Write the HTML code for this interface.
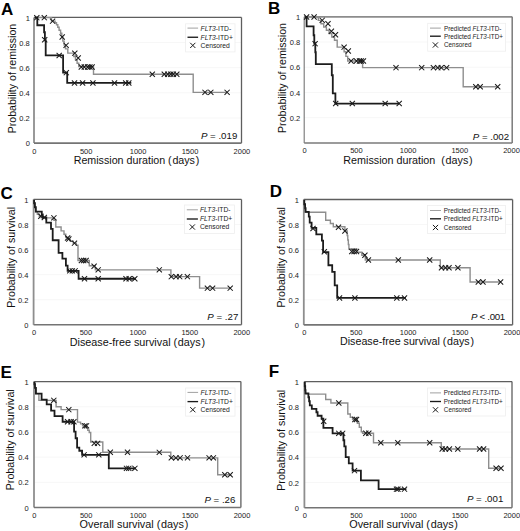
<!DOCTYPE html>
<html><head><meta charset="utf-8"><style>
html,body{margin:0;padding:0;background:#fff;}
svg{display:block;font-family:"Liberation Sans", sans-serif;}
</style></head><body>
<svg width="520" height="531" viewBox="0 0 520 531">
<rect width="520" height="531" fill="#fff"/>
<path d="M34 42.54H241.5" stroke="#f7f7f7" stroke-width="1"/>
<path d="M34 67.68H241.5" stroke="#f7f7f7" stroke-width="1"/>
<path d="M34 92.82H241.5" stroke="#f7f7f7" stroke-width="1"/>
<path d="M34 117.96H241.5" stroke="#f7f7f7" stroke-width="1"/>
<text x="0.90" y="14.60" font-size="17" text-anchor="start" font-weight="bold" fill="#000" >A</text>
<text transform="translate(16.20,78.60) rotate(-90)" font-size="10.6" text-anchor="middle" fill="#111">Probability of remission</text>
<text x="136.50" y="163.70" font-size="10.7" text-anchor="middle" font-weight="normal" fill="#111" xml:space="preserve">Remission duration (<tspan dx="0.7">days</tspan><tspan dx="0.8">)</tspan></text>
<text x="29.80" y="20.50" font-size="7.5" text-anchor="end" font-weight="normal" fill="#222" >1</text>
<text x="29.80" y="45.64" font-size="7.5" text-anchor="end" font-weight="normal" fill="#222" >0.8</text>
<text x="29.80" y="70.78" font-size="7.5" text-anchor="end" font-weight="normal" fill="#222" >0.6</text>
<text x="29.80" y="95.92" font-size="7.5" text-anchor="end" font-weight="normal" fill="#222" >0.4</text>
<text x="29.80" y="121.06" font-size="7.5" text-anchor="end" font-weight="normal" fill="#222" >0.2</text>
<text x="29.80" y="146.20" font-size="7.5" text-anchor="end" font-weight="normal" fill="#222" >0</text>
<text x="34.30" y="153.60" font-size="7.5" text-anchor="middle" font-weight="normal" fill="#222" >0</text>
<text x="86.20" y="153.60" font-size="7.5" text-anchor="middle" font-weight="normal" fill="#222" >500</text>
<text x="138.10" y="153.60" font-size="7.5" text-anchor="middle" font-weight="normal" fill="#222" >1000</text>
<text x="190.00" y="153.60" font-size="7.5" text-anchor="middle" font-weight="normal" fill="#222" >1500</text>
<text x="241.90" y="153.60" font-size="7.5" text-anchor="middle" font-weight="normal" fill="#222" >2000</text>
<rect x="185.6" y="23.8" width="49.4" height="28.1" fill="#fff" stroke="#eeeeee" stroke-width="0.8"/>
<path d="M187.5 28.1H198.1" stroke="#a0a0a0" stroke-width="1.0"/>
<path d="M187.5 37.25H198.1" stroke="#1a1a1a" stroke-width="1.35"/>
<path d="M190.20 42.80L195.40 48.00M190.20 48.00L195.40 42.80" stroke="#1a1a1a" stroke-width="1.0" fill="none"/>
<text x="200.6" y="30.5" font-size="6.75" fill="#222"><tspan font-style="italic">FLT3</tspan>-ITD-</text>
<text x="200.6" y="39.65" font-size="6.75" fill="#222"><tspan font-style="italic">FLT3</tspan>-ITD+</text>
<text x="200.6" y="47.8" font-size="6.75" fill="#222">Censored</text>
<text x="237.3" y="139.1" font-size="9.7" text-anchor="end" fill="#111"><tspan font-style="italic">P</tspan> = .019</text>
<path d="M34 17.4H241.5" stroke="#5e5e5e" stroke-width="1.3"/>
<path d="M241.5 17.4V143.1" stroke="#5e5e5e" stroke-width="1.3"/>
<path d="M34 17.4V143.1" stroke="#8e8e8e" stroke-width="1.8"/>
<path d="M34 143.1H241.5" stroke="#747474" stroke-width="1.6"/>
<g transform="translate(0.3,0.25)">
<path d="M34.3 17.4H51.2V20.9H54.8V22.5H56.2V24.5H57.5V27H58.8V30H60.3V33H61.5V37H62.5V40.87H63.83V44.73H65.17V48.60H66.50H67.5V52.9H73.5V56.25H75.15V59.60H76.80V62.95H78.45V66.30H80.10H93.2V74.0H192.9V92.1H227" stroke="#8e8e8e" stroke-width="1.4" fill="none"/>
<path d="M34.3 17.4H37V25H43.8V32H44.6V40H45.4V55.2H62.8V72.4H66.9V82.7H131" stroke="#1c1c1c" stroke-width="1.8" fill="none"/>
<path d="M33.90 14.80L39.10 20.00M33.90 20.00L39.10 14.80" stroke="#1a1a1a" stroke-width="1.05" fill="none"/>
<path d="M41.40 14.80L46.60 20.00M41.40 20.00L46.60 14.80" stroke="#1a1a1a" stroke-width="1.05" fill="none"/>
<path d="M49.70 18.30L54.90 23.50M49.70 23.50L54.90 18.30" stroke="#1a1a1a" stroke-width="1.05" fill="none"/>
<path d="M59.30 34.10L64.50 39.30M59.30 39.30L64.50 34.10" stroke="#1a1a1a" stroke-width="1.05" fill="none"/>
<path d="M63.20 42.50L68.40 47.70M63.20 47.70L68.40 42.50" stroke="#1a1a1a" stroke-width="1.05" fill="none"/>
<path d="M71.90 50.30L77.10 55.50M71.90 55.50L77.10 50.30" stroke="#1a1a1a" stroke-width="1.05" fill="none"/>
<path d="M75.30 55.10L80.50 60.30M75.30 60.30L80.50 55.10" stroke="#1a1a1a" stroke-width="1.05" fill="none"/>
<path d="M78.40 64.20L83.60 69.40M78.40 69.40L83.60 64.20" stroke="#1a1a1a" stroke-width="1.05" fill="none"/>
<path d="M81.40 64.20L86.60 69.40M81.40 69.40L86.60 64.20" stroke="#1a1a1a" stroke-width="1.05" fill="none"/>
<path d="M84.80 64.20L90.00 69.40M84.80 69.40L90.00 64.20" stroke="#1a1a1a" stroke-width="1.05" fill="none"/>
<path d="M87.00 64.20L92.20 69.40M87.00 69.40L92.20 64.20" stroke="#1a1a1a" stroke-width="1.05" fill="none"/>
<path d="M89.20 64.20L94.40 69.40M89.20 69.40L94.40 64.20" stroke="#1a1a1a" stroke-width="1.05" fill="none"/>
<path d="M149.40 71.40L154.60 76.60M149.40 76.60L154.60 71.40" stroke="#1a1a1a" stroke-width="1.05" fill="none"/>
<path d="M161.40 71.40L166.60 76.60M161.40 76.60L166.60 71.40" stroke="#1a1a1a" stroke-width="1.05" fill="none"/>
<path d="M164.90 71.40L170.10 76.60M164.90 76.60L170.10 71.40" stroke="#1a1a1a" stroke-width="1.05" fill="none"/>
<path d="M167.90 71.40L173.10 76.60M167.90 76.60L173.10 71.40" stroke="#1a1a1a" stroke-width="1.05" fill="none"/>
<path d="M170.40 71.40L175.60 76.60M170.40 76.60L175.60 71.40" stroke="#1a1a1a" stroke-width="1.05" fill="none"/>
<path d="M173.90 71.40L179.10 76.60M173.90 76.60L179.10 71.40" stroke="#1a1a1a" stroke-width="1.05" fill="none"/>
<path d="M202.10 89.50L207.30 94.70M202.10 94.70L207.30 89.50" stroke="#1a1a1a" stroke-width="1.05" fill="none"/>
<path d="M207.90 89.50L213.10 94.70M207.90 94.70L213.10 89.50" stroke="#1a1a1a" stroke-width="1.05" fill="none"/>
<path d="M224.20 89.50L229.40 94.70M224.20 94.70L229.40 89.50" stroke="#1a1a1a" stroke-width="1.05" fill="none"/>
<path d="M41.80 36.90L47.00 42.10M41.80 42.10L47.00 36.90" stroke="#1a1a1a" stroke-width="1.05" fill="none"/>
<path d="M56.30 52.60L61.50 57.80M56.30 57.80L61.50 52.60" stroke="#1a1a1a" stroke-width="1.05" fill="none"/>
<path d="M63.40 69.80L68.60 75.00M63.40 75.00L68.60 69.80" stroke="#1a1a1a" stroke-width="1.05" fill="none"/>
<path d="M71.60 80.10L76.80 85.30M71.60 85.30L76.80 80.10" stroke="#1a1a1a" stroke-width="1.05" fill="none"/>
<path d="M79.70 80.10L84.90 85.30M79.70 85.30L84.90 80.10" stroke="#1a1a1a" stroke-width="1.05" fill="none"/>
<path d="M90.00 80.10L95.20 85.30M90.00 85.30L95.20 80.10" stroke="#1a1a1a" stroke-width="1.05" fill="none"/>
<path d="M111.60 80.10L116.80 85.30M111.60 85.30L116.80 80.10" stroke="#1a1a1a" stroke-width="1.05" fill="none"/>
<path d="M122.80 80.10L128.00 85.30M122.80 85.30L128.00 80.10" stroke="#1a1a1a" stroke-width="1.05" fill="none"/>
<path d="M125.90 80.10L131.10 85.30M125.90 85.30L131.10 80.10" stroke="#1a1a1a" stroke-width="1.05" fill="none"/>
</g>
<path d="M304.2 42.02H512.2" stroke="#f7f7f7" stroke-width="1"/>
<path d="M304.2 67.24H512.2" stroke="#f7f7f7" stroke-width="1"/>
<path d="M304.2 92.46H512.2" stroke="#f7f7f7" stroke-width="1"/>
<path d="M304.2 117.68H512.2" stroke="#f7f7f7" stroke-width="1"/>
<text x="267.90" y="13.60" font-size="17" text-anchor="start" font-weight="bold" fill="#000" >B</text>
<text transform="translate(286.20,78.00) rotate(-90)" font-size="10.65" text-anchor="middle" fill="#111">Probability of remission</text>
<text x="408.00" y="163.60" font-size="10.75" text-anchor="middle" font-weight="normal" fill="#111" xml:space="preserve">Remission duration  (<tspan dx="0.7">days</tspan><tspan dx="0.8">)</tspan></text>
<text x="300.20" y="19.90" font-size="7.5" text-anchor="end" font-weight="normal" fill="#222" >1</text>
<text x="300.20" y="45.12" font-size="7.5" text-anchor="end" font-weight="normal" fill="#222" >0.8</text>
<text x="300.20" y="70.34" font-size="7.5" text-anchor="end" font-weight="normal" fill="#222" >0.6</text>
<text x="300.20" y="95.56" font-size="7.5" text-anchor="end" font-weight="normal" fill="#222" >0.4</text>
<text x="300.20" y="120.78" font-size="7.5" text-anchor="end" font-weight="normal" fill="#222" >0.2</text>
<text x="304.70" y="153.30" font-size="7.5" text-anchor="middle" font-weight="normal" fill="#222" >0</text>
<text x="356.40" y="153.30" font-size="7.5" text-anchor="middle" font-weight="normal" fill="#222" >500</text>
<text x="408.10" y="153.30" font-size="7.5" text-anchor="middle" font-weight="normal" fill="#222" >1000</text>
<text x="459.80" y="153.30" font-size="7.5" text-anchor="middle" font-weight="normal" fill="#222" >1500</text>
<text x="511.50" y="153.30" font-size="7.5" text-anchor="middle" font-weight="normal" fill="#222" >2000</text>
<rect x="427.7" y="23.3" width="77.9" height="27.9" fill="#fff" stroke="#eeeeee" stroke-width="0.8"/>
<path d="M430 28.1H440.8" stroke="#a0a0a0" stroke-width="1.0"/>
<path d="M430 36.2H440.8" stroke="#1a1a1a" stroke-width="1.35"/>
<path d="M432.80 42.40L438.00 47.60M432.80 47.60L438.00 42.40" stroke="#1a1a1a" stroke-width="1.0" fill="none"/>
<text x="444" y="30.5" font-size="6.35" fill="#222">Predicted <tspan font-style="italic">FLT3</tspan>-ITD-</text>
<text x="444" y="38.6" font-size="6.35" fill="#222">Predicted <tspan font-style="italic">FLT3</tspan>-ITD+</text>
<text x="444" y="47.4" font-size="6.35" fill="#222">Censored</text>
<text x="509.1" y="139.9" font-size="9.7" text-anchor="end" fill="#111"><tspan font-style="italic">P</tspan> = .002</text>
<path d="M304.2 16.8H512.2" stroke="#8c8c8c" stroke-width="1.8"/>
<path d="M512.2 16.8V142.9" stroke="#7a7a7a" stroke-width="1.5"/>
<path d="M304.2 16.8V142.9" stroke="#767676" stroke-width="1.1"/>
<path d="M304.2 142.9H512.2" stroke="#7a7a7a" stroke-width="1.5"/>
<g transform="translate(0.3,0.25)">
<path d="M304.5 16.8H318V20.11H320.70V23.43H323.40V26.74H326.10V30.06H328.80V33.37H331.50V36.69H334.20V40.00H336.90V46.9H343.8V51.53H345.60V56.17H347.40V60.80H349.20H362.3V67.4H462.9V86.5H497.5" stroke="#8e8e8e" stroke-width="1.4" fill="none"/>
<path d="M304.5 16.8H306.3V26.1H313.3V35H314V43H315V52H315.5V63.8H331.5V75H332.5V93.1H335.1V103.3H399" stroke="#1c1c1c" stroke-width="1.8" fill="none"/>
<path d="M303.70 14.20L308.90 19.40M303.70 19.40L308.90 14.20" stroke="#1a1a1a" stroke-width="1.05" fill="none"/>
<path d="M311.20 14.20L316.40 19.40M311.20 19.40L316.40 14.20" stroke="#1a1a1a" stroke-width="1.05" fill="none"/>
<path d="M319.30 17.50L324.50 22.70M319.30 22.70L324.50 17.50" stroke="#1a1a1a" stroke-width="1.05" fill="none"/>
<path d="M325.10 20.90L330.30 26.10M325.10 26.10L330.30 20.90" stroke="#1a1a1a" stroke-width="1.05" fill="none"/>
<path d="M328.50 28.40L333.70 33.60M328.50 33.60L333.70 28.40" stroke="#1a1a1a" stroke-width="1.05" fill="none"/>
<path d="M332.60 31.90L337.80 37.10M332.60 37.10L337.80 31.90" stroke="#1a1a1a" stroke-width="1.05" fill="none"/>
<path d="M341.20 44.30L346.40 49.50M341.20 49.50L346.40 44.30" stroke="#1a1a1a" stroke-width="1.05" fill="none"/>
<path d="M345.40 48.20L350.60 53.40M345.40 53.40L350.60 48.20" stroke="#1a1a1a" stroke-width="1.05" fill="none"/>
<path d="M348.20 58.20L353.40 63.40M348.20 63.40L353.40 58.20" stroke="#1a1a1a" stroke-width="1.05" fill="none"/>
<path d="M353.60 58.20L358.80 63.40M353.60 63.40L358.80 58.20" stroke="#1a1a1a" stroke-width="1.05" fill="none"/>
<path d="M356.60 58.20L361.80 63.40M356.60 63.40L361.80 58.20" stroke="#1a1a1a" stroke-width="1.05" fill="none"/>
<path d="M358.40 58.20L363.60 63.40M358.40 63.40L363.60 58.20" stroke="#1a1a1a" stroke-width="1.05" fill="none"/>
<path d="M360.50 58.20L365.70 63.40M360.50 63.40L365.70 58.20" stroke="#1a1a1a" stroke-width="1.05" fill="none"/>
<path d="M393.10 64.80L398.30 70.00M393.10 70.00L398.30 64.80" stroke="#1a1a1a" stroke-width="1.05" fill="none"/>
<path d="M418.80 64.80L424.00 70.00M418.80 70.00L424.00 64.80" stroke="#1a1a1a" stroke-width="1.05" fill="none"/>
<path d="M430.50 64.80L435.70 70.00M430.50 70.00L435.70 64.80" stroke="#1a1a1a" stroke-width="1.05" fill="none"/>
<path d="M434.90 64.80L440.10 70.00M434.90 70.00L440.10 64.80" stroke="#1a1a1a" stroke-width="1.05" fill="none"/>
<path d="M438.40 64.80L443.60 70.00M438.40 70.00L443.60 64.80" stroke="#1a1a1a" stroke-width="1.05" fill="none"/>
<path d="M443.70 64.80L448.90 70.00M443.70 70.00L448.90 64.80" stroke="#1a1a1a" stroke-width="1.05" fill="none"/>
<path d="M472.90 83.90L478.10 89.10M472.90 89.10L478.10 83.90" stroke="#1a1a1a" stroke-width="1.05" fill="none"/>
<path d="M477.30 83.90L482.50 89.10M477.30 89.10L482.50 83.90" stroke="#1a1a1a" stroke-width="1.05" fill="none"/>
<path d="M494.80 83.90L500.00 89.10M494.80 89.10L500.00 83.90" stroke="#1a1a1a" stroke-width="1.05" fill="none"/>
<path d="M312.20 40.80L317.40 46.00M312.20 46.00L317.40 40.80" stroke="#1a1a1a" stroke-width="1.05" fill="none"/>
<path d="M332.80 100.70L338.00 105.90M332.80 105.90L338.00 100.70" stroke="#1a1a1a" stroke-width="1.05" fill="none"/>
<path d="M349.40 100.70L354.60 105.90M349.40 105.90L354.60 100.70" stroke="#1a1a1a" stroke-width="1.05" fill="none"/>
<path d="M382.30 100.70L387.50 105.90M382.30 105.90L387.50 100.70" stroke="#1a1a1a" stroke-width="1.05" fill="none"/>
<path d="M396.30 100.70L401.50 105.90M396.30 105.90L401.50 100.70" stroke="#1a1a1a" stroke-width="1.05" fill="none"/>
</g>
<path d="M33.6 224.48H241.5" stroke="#f7f7f7" stroke-width="1"/>
<path d="M33.6 249.56H241.5" stroke="#f7f7f7" stroke-width="1"/>
<path d="M33.6 274.64H241.5" stroke="#f7f7f7" stroke-width="1"/>
<path d="M33.6 299.72H241.5" stroke="#f7f7f7" stroke-width="1"/>
<text x="0.60" y="198.50" font-size="17" text-anchor="start" font-weight="bold" fill="#000" >C</text>
<text transform="translate(14.60,257.30) rotate(-90)" font-size="10.66" text-anchor="middle" fill="#111">Probability of survival</text>
<text x="137.40" y="345.60" font-size="10.8" text-anchor="middle" font-weight="normal" fill="#111" xml:space="preserve">Disease-free survival (<tspan dx="0.7">days</tspan><tspan dx="0.8">)</tspan></text>
<text x="28.40" y="202.50" font-size="7.5" text-anchor="end" font-weight="normal" fill="#222" >1</text>
<text x="28.40" y="227.58" font-size="7.5" text-anchor="end" font-weight="normal" fill="#222" >0.8</text>
<text x="28.40" y="252.66" font-size="7.5" text-anchor="end" font-weight="normal" fill="#222" >0.6</text>
<text x="28.40" y="277.74" font-size="7.5" text-anchor="end" font-weight="normal" fill="#222" >0.4</text>
<text x="28.40" y="302.82" font-size="7.5" text-anchor="end" font-weight="normal" fill="#222" >0.2</text>
<text x="28.40" y="327.90" font-size="7.5" text-anchor="end" font-weight="normal" fill="#222" >0</text>
<text x="34.00" y="335.10" font-size="7.5" text-anchor="middle" font-weight="normal" fill="#222" >0</text>
<text x="85.94" y="335.10" font-size="7.5" text-anchor="middle" font-weight="normal" fill="#222" >500</text>
<text x="137.88" y="335.10" font-size="7.5" text-anchor="middle" font-weight="normal" fill="#222" >1000</text>
<text x="189.81" y="335.10" font-size="7.5" text-anchor="middle" font-weight="normal" fill="#222" >1500</text>
<text x="241.75" y="335.10" font-size="7.5" text-anchor="middle" font-weight="normal" fill="#222" >2000</text>
<rect x="184.5" y="205" width="50" height="28.5" fill="#fff" stroke="#eeeeee" stroke-width="0.8"/>
<path d="M186.8 209.8H197.9" stroke="#a0a0a0" stroke-width="1.0"/>
<path d="M186.8 219H197.9" stroke="#1a1a1a" stroke-width="1.35"/>
<path d="M189.75 224.40L194.95 229.60M189.75 229.60L194.95 224.40" stroke="#1a1a1a" stroke-width="1.0" fill="none"/>
<text x="199.9" y="212.20000000000002" font-size="6.75" fill="#222"><tspan font-style="italic">FLT3</tspan>-ITD-</text>
<text x="199.9" y="221.4" font-size="6.75" fill="#222"><tspan font-style="italic">FLT3</tspan>-ITD+</text>
<text x="199.9" y="229.4" font-size="6.75" fill="#222">Censored</text>
<text x="238.3" y="320.2" font-size="9.7" text-anchor="end" fill="#111"><tspan font-style="italic">P</tspan> = .27</text>
<path d="M33.6 199.4H241.5" stroke="#5e5e5e" stroke-width="1.3"/>
<path d="M241.5 199.4V324.8" stroke="#5e5e5e" stroke-width="1.3"/>
<path d="M33.6 199.4V324.8" stroke="#8e8e8e" stroke-width="1.8"/>
<path d="M33.6 324.8H241.5" stroke="#747474" stroke-width="1.6"/>
<g transform="translate(0.3,0.25)">
<path d="M33.8 199.4V203H34.6V207H35.5V211.4H37V214H39V216H41V217.6H53.6V220H55.5V226.7H60.8V230.6H63.7V234H65.5V237.3H67.5V239H70V241H73V243H76V245H77.7V260.2H89V265.5H95V269.6H170.6V276.4H199.3V287.9H230" stroke="#8e8e8e" stroke-width="1.4" fill="none"/>
<path d="M33.8 199.4V203H34.6V207H35.5V211.4H41.5V215H42.5V217.2H46V222.4H50.7V228.7H52.4V240H58.3V252.7H62.1V258.4H65.6V265.4H67.3V270.6H78.3V278.5H135.5" stroke="#1c1c1c" stroke-width="1.8" fill="none"/>
<path d="M37.90 213.40L43.10 218.60M37.90 218.60L43.10 213.40" stroke="#1a1a1a" stroke-width="1.05" fill="none"/>
<path d="M51.00 215.00L56.20 220.20M51.00 220.20L56.20 215.00" stroke="#1a1a1a" stroke-width="1.05" fill="none"/>
<path d="M64.70 235.10L69.90 240.30M64.70 240.30L69.90 235.10" stroke="#1a1a1a" stroke-width="1.05" fill="none"/>
<path d="M65.90 236.20L71.10 241.40M65.90 241.40L71.10 236.20" stroke="#1a1a1a" stroke-width="1.05" fill="none"/>
<path d="M71.60 240.30L76.80 245.50M71.60 245.50L76.80 240.30" stroke="#1a1a1a" stroke-width="1.05" fill="none"/>
<path d="M78.50 257.60L83.70 262.80M78.50 262.80L83.70 257.60" stroke="#1a1a1a" stroke-width="1.05" fill="none"/>
<path d="M80.80 257.60L86.00 262.80M80.80 262.80L86.00 257.60" stroke="#1a1a1a" stroke-width="1.05" fill="none"/>
<path d="M83.20 257.60L88.40 262.80M83.20 262.80L88.40 257.60" stroke="#1a1a1a" stroke-width="1.05" fill="none"/>
<path d="M91.20 263.40L96.40 268.60M91.20 268.60L96.40 263.40" stroke="#1a1a1a" stroke-width="1.05" fill="none"/>
<path d="M95.30 267.00L100.50 272.20M95.30 272.20L100.50 267.00" stroke="#1a1a1a" stroke-width="1.05" fill="none"/>
<path d="M156.40 267.00L161.60 272.20M156.40 272.20L161.60 267.00" stroke="#1a1a1a" stroke-width="1.05" fill="none"/>
<path d="M168.40 273.80L173.60 279.00M168.40 279.00L173.60 273.80" stroke="#1a1a1a" stroke-width="1.05" fill="none"/>
<path d="M173.20 273.80L178.40 279.00M173.20 279.00L178.40 273.80" stroke="#1a1a1a" stroke-width="1.05" fill="none"/>
<path d="M176.80 273.80L182.00 279.00M176.80 279.00L182.00 273.80" stroke="#1a1a1a" stroke-width="1.05" fill="none"/>
<path d="M184.50 273.80L189.70 279.00M184.50 279.00L189.70 273.80" stroke="#1a1a1a" stroke-width="1.05" fill="none"/>
<path d="M204.50 285.30L209.70 290.50M204.50 290.50L209.70 285.30" stroke="#1a1a1a" stroke-width="1.05" fill="none"/>
<path d="M209.70 285.30L214.90 290.50M209.70 290.50L214.90 285.30" stroke="#1a1a1a" stroke-width="1.05" fill="none"/>
<path d="M227.30 285.30L232.50 290.50M227.30 290.50L232.50 285.30" stroke="#1a1a1a" stroke-width="1.05" fill="none"/>
<path d="M41.40 214.60L46.60 219.80M41.40 219.80L46.60 214.60" stroke="#1a1a1a" stroke-width="1.05" fill="none"/>
<path d="M66.90 268.00L72.10 273.20M66.90 273.20L72.10 268.00" stroke="#1a1a1a" stroke-width="1.05" fill="none"/>
<path d="M69.40 268.00L74.60 273.20M69.40 273.20L74.60 268.00" stroke="#1a1a1a" stroke-width="1.05" fill="none"/>
<path d="M72.20 268.00L77.40 273.20M72.20 273.20L77.40 268.00" stroke="#1a1a1a" stroke-width="1.05" fill="none"/>
<path d="M81.60 275.90L86.80 281.10M81.60 281.10L86.80 275.90" stroke="#1a1a1a" stroke-width="1.05" fill="none"/>
<path d="M95.30 275.90L100.50 281.10M95.30 281.10L100.50 275.90" stroke="#1a1a1a" stroke-width="1.05" fill="none"/>
<path d="M123.10 275.90L128.30 281.10M123.10 281.10L128.30 275.90" stroke="#1a1a1a" stroke-width="1.05" fill="none"/>
<path d="M126.30 275.90L131.50 281.10M126.30 281.10L131.50 275.90" stroke="#1a1a1a" stroke-width="1.05" fill="none"/>
<path d="M131.90 275.90L137.10 281.10M131.90 281.10L137.10 275.90" stroke="#1a1a1a" stroke-width="1.05" fill="none"/>
</g>
<path d="M303.8 224.58H512.6" stroke="#f7f7f7" stroke-width="1"/>
<path d="M303.8 249.66H512.6" stroke="#f7f7f7" stroke-width="1"/>
<path d="M303.8 274.74H512.6" stroke="#f7f7f7" stroke-width="1"/>
<path d="M303.8 299.82H512.6" stroke="#f7f7f7" stroke-width="1"/>
<text x="269.70" y="197.40" font-size="17" text-anchor="start" font-weight="bold" fill="#000" >D</text>
<text transform="translate(284.70,257.30) rotate(-90)" font-size="10.65" text-anchor="middle" fill="#111">Probability of survival</text>
<text x="407.00" y="345.40" font-size="10.7" text-anchor="middle" font-weight="normal" fill="#111" xml:space="preserve">Disease-free survival (<tspan dx="0.7">days</tspan><tspan dx="0.8">)</tspan></text>
<text x="299.00" y="202.60" font-size="7.5" text-anchor="end" font-weight="normal" fill="#222" >1</text>
<text x="299.00" y="227.68" font-size="7.5" text-anchor="end" font-weight="normal" fill="#222" >0.8</text>
<text x="299.00" y="252.76" font-size="7.5" text-anchor="end" font-weight="normal" fill="#222" >0.6</text>
<text x="299.00" y="277.84" font-size="7.5" text-anchor="end" font-weight="normal" fill="#222" >0.4</text>
<text x="299.00" y="302.92" font-size="7.5" text-anchor="end" font-weight="normal" fill="#222" >0.2</text>
<text x="299.00" y="328.00" font-size="7.5" text-anchor="end" font-weight="normal" fill="#222" >0</text>
<text x="304.30" y="334.70" font-size="7.5" text-anchor="middle" font-weight="normal" fill="#222" >0</text>
<text x="356.23" y="334.70" font-size="7.5" text-anchor="middle" font-weight="normal" fill="#222" >500</text>
<text x="408.15" y="334.70" font-size="7.5" text-anchor="middle" font-weight="normal" fill="#222" >1000</text>
<text x="460.08" y="334.70" font-size="7.5" text-anchor="middle" font-weight="normal" fill="#222" >1500</text>
<text x="512.00" y="334.70" font-size="7.5" text-anchor="middle" font-weight="normal" fill="#222" >2000</text>
<rect x="427.5" y="205.5" width="78" height="28" fill="#fff" stroke="#eeeeee" stroke-width="0.8"/>
<path d="M430 210.5H441" stroke="#a0a0a0" stroke-width="1.0"/>
<path d="M430 218.8H441" stroke="#1a1a1a" stroke-width="1.35"/>
<path d="M432.90 224.90L438.10 230.10M432.90 230.10L438.10 224.90" stroke="#1a1a1a" stroke-width="1.0" fill="none"/>
<text x="443.8" y="212.9" font-size="6.35" fill="#222">Predicted <tspan font-style="italic">FLT3</tspan>-ITD-</text>
<text x="443.8" y="221.20000000000002" font-size="6.35" fill="#222">Predicted <tspan font-style="italic">FLT3</tspan>-ITD+</text>
<text x="443.8" y="229.9" font-size="6.35" fill="#222">Censored</text>
<text x="505.2" y="320.2" font-size="9.7" text-anchor="end" fill="#111" textLength="34.2" lengthAdjust="spacing"><tspan font-style="italic">P</tspan> &lt; .001</text>
<path d="M303.8 199.5H512.6" stroke="#5e5e5e" stroke-width="1.3"/>
<path d="M512.6 199.5V324.9" stroke="#5e5e5e" stroke-width="1.3"/>
<path d="M303.8 199.5V324.9" stroke="#8e8e8e" stroke-width="1.8"/>
<path d="M303.8 324.9H512.6" stroke="#747474" stroke-width="1.6"/>
<g transform="translate(0.3,0.25)">
<path d="M304 199.5V204H304.8V208H305.4V212H325.4V220H330.1V223.3H333V226.5H344.6V230.7H346.9V235.22H347.47V239.75H348.05V244.28H348.62V248.80H349.20H356.5V252H361.5V255H365V259.8H440V267.5H469.8V281.8H500.3" stroke="#8e8e8e" stroke-width="1.4" fill="none"/>
<path d="M304 199.5V204H304.8V208H305.2V211.6H308.5V216.3H309.4V222.4H311.3V227.6H316V234.2H321.6V240.3H322.8V251.9H328.1V265H331.9V271.7H334.4V285.2H336.9V297.7H405.6" stroke="#1c1c1c" stroke-width="1.8" fill="none"/>
<path d="M335.60 224.40L340.80 229.60M335.60 229.60L340.80 224.40" stroke="#1a1a1a" stroke-width="1.05" fill="none"/>
<path d="M342.00 228.10L347.20 233.30M342.00 233.30L347.20 228.10" stroke="#1a1a1a" stroke-width="1.05" fill="none"/>
<path d="M348.90 248.60L354.10 253.80M348.90 253.80L354.10 248.60" stroke="#1a1a1a" stroke-width="1.05" fill="none"/>
<path d="M351.20 248.60L356.40 253.80M351.20 253.80L356.40 248.60" stroke="#1a1a1a" stroke-width="1.05" fill="none"/>
<path d="M353.60 248.60L358.80 253.80M353.60 253.80L358.80 248.60" stroke="#1a1a1a" stroke-width="1.05" fill="none"/>
<path d="M362.00 252.40L367.20 257.60M362.00 257.60L367.20 252.40" stroke="#1a1a1a" stroke-width="1.05" fill="none"/>
<path d="M365.50 257.20L370.70 262.40M365.50 262.40L370.70 257.20" stroke="#1a1a1a" stroke-width="1.05" fill="none"/>
<path d="M395.40 257.20L400.60 262.40M395.40 262.40L400.60 257.20" stroke="#1a1a1a" stroke-width="1.05" fill="none"/>
<path d="M426.80 257.20L432.00 262.40M426.80 262.40L432.00 257.20" stroke="#1a1a1a" stroke-width="1.05" fill="none"/>
<path d="M438.60 264.90L443.80 270.10M438.60 270.10L443.80 264.90" stroke="#1a1a1a" stroke-width="1.05" fill="none"/>
<path d="M442.60 264.90L447.80 270.10M442.60 270.10L447.80 264.90" stroke="#1a1a1a" stroke-width="1.05" fill="none"/>
<path d="M446.10 264.90L451.30 270.10M446.10 270.10L451.30 264.90" stroke="#1a1a1a" stroke-width="1.05" fill="none"/>
<path d="M455.00 264.90L460.20 270.10M455.00 270.10L460.20 264.90" stroke="#1a1a1a" stroke-width="1.05" fill="none"/>
<path d="M475.40 279.20L480.60 284.40M475.40 284.40L480.60 279.20" stroke="#1a1a1a" stroke-width="1.05" fill="none"/>
<path d="M480.10 279.20L485.30 284.40M480.10 284.40L485.30 279.20" stroke="#1a1a1a" stroke-width="1.05" fill="none"/>
<path d="M497.70 279.20L502.90 284.40M497.70 284.40L502.90 279.20" stroke="#1a1a1a" stroke-width="1.05" fill="none"/>
<path d="M310.10 225.70L315.30 230.90M310.10 230.90L315.30 225.70" stroke="#1a1a1a" stroke-width="1.05" fill="none"/>
<path d="M321.40 248.90L326.60 254.10M321.40 254.10L326.60 248.90" stroke="#1a1a1a" stroke-width="1.05" fill="none"/>
<path d="M336.60 295.10L341.80 300.30M336.60 300.30L341.80 295.10" stroke="#1a1a1a" stroke-width="1.05" fill="none"/>
<path d="M352.00 295.10L357.20 300.30M352.00 300.30L357.20 295.10" stroke="#1a1a1a" stroke-width="1.05" fill="none"/>
<path d="M393.90 295.10L399.10 300.30M393.90 300.30L399.10 295.10" stroke="#1a1a1a" stroke-width="1.05" fill="none"/>
<path d="M401.60 295.10L406.80 300.30M401.60 300.30L406.80 295.10" stroke="#1a1a1a" stroke-width="1.05" fill="none"/>
</g>
<path d="M34 406.78H240.9" stroke="#f7f7f7" stroke-width="1"/>
<path d="M34 431.96H240.9" stroke="#f7f7f7" stroke-width="1"/>
<path d="M34 457.14H240.9" stroke="#f7f7f7" stroke-width="1"/>
<path d="M34 482.32H240.9" stroke="#f7f7f7" stroke-width="1"/>
<text x="0.40" y="378.30" font-size="17" text-anchor="start" font-weight="bold" fill="#000" >E</text>
<text transform="translate(14.30,439.80) rotate(-90)" font-size="10.7" text-anchor="middle" fill="#111">Probability of survival</text>
<text x="134.00" y="528.00" font-size="10.85" text-anchor="middle" font-weight="normal" fill="#111" xml:space="preserve">Overall survival (<tspan dx="0.7">days</tspan><tspan dx="0.8">)</tspan></text>
<text x="28.60" y="384.70" font-size="7.5" text-anchor="end" font-weight="normal" fill="#222" >1</text>
<text x="28.60" y="409.88" font-size="7.5" text-anchor="end" font-weight="normal" fill="#222" >0.8</text>
<text x="28.60" y="435.06" font-size="7.5" text-anchor="end" font-weight="normal" fill="#222" >0.6</text>
<text x="28.60" y="460.24" font-size="7.5" text-anchor="end" font-weight="normal" fill="#222" >0.4</text>
<text x="28.60" y="485.42" font-size="7.5" text-anchor="end" font-weight="normal" fill="#222" >0.2</text>
<text x="28.60" y="510.60" font-size="7.5" text-anchor="end" font-weight="normal" fill="#222" >0</text>
<text x="34.30" y="517.60" font-size="7.5" text-anchor="middle" font-weight="normal" fill="#222" >0</text>
<text x="86.22" y="517.60" font-size="7.5" text-anchor="middle" font-weight="normal" fill="#222" >500</text>
<text x="138.15" y="517.60" font-size="7.5" text-anchor="middle" font-weight="normal" fill="#222" >1000</text>
<text x="190.07" y="517.60" font-size="7.5" text-anchor="middle" font-weight="normal" fill="#222" >1500</text>
<text x="242.00" y="517.60" font-size="7.5" text-anchor="middle" font-weight="normal" fill="#222" >2000</text>
<rect x="185.6" y="388" width="49.4" height="28.1" fill="#fff" stroke="#eeeeee" stroke-width="0.8"/>
<path d="M187.5 392.4H198.1" stroke="#a0a0a0" stroke-width="1.0"/>
<path d="M187.5 401.6H198.1" stroke="#1a1a1a" stroke-width="1.35"/>
<path d="M190.20 407.10L195.40 412.30M190.20 412.30L195.40 407.10" stroke="#1a1a1a" stroke-width="1.0" fill="none"/>
<text x="200.6" y="394.79999999999995" font-size="6.75" fill="#222"><tspan font-style="italic">FLT3</tspan>-ITD-</text>
<text x="200.6" y="404.0" font-size="6.75" fill="#222"><tspan font-style="italic">FLT3</tspan>-ITD+</text>
<text x="200.6" y="412.09999999999997" font-size="6.75" fill="#222">Censored</text>
<text x="235.4" y="502.8" font-size="9.7" text-anchor="end" fill="#111"><tspan font-style="italic">P</tspan> = .26</text>
<path d="M34 381.6H240.9" stroke="#5e5e5e" stroke-width="1.3"/>
<path d="M240.9 381.6V507.5" stroke="#5e5e5e" stroke-width="1.3"/>
<path d="M34 381.6V507.5" stroke="#8e8e8e" stroke-width="1.8"/>
<path d="M34 507.5H240.9" stroke="#747474" stroke-width="1.6"/>
<g transform="translate(0.3,0.25)">
<path d="M34.2 381.5V384H34.7V387.6H35.6V393.4H38.6V400.1H55.8V406.5H60.8V409.4H77.2V421.9H80.3V423.6H82.3V425.6H86V427.83H87.47V430.07H88.93V432.30H90.40V441.7H102.5V452H170.5V457.6H217.4V474.5H231" stroke="#8e8e8e" stroke-width="1.4" fill="none"/>
<path d="M34.2 381.5V384H34.7V387.6H35.6V393.4H41.3V399.3H46.4V404.2H50.8V410.4H54.2V415.8H62.3V421.5H73.8V431.3H75.3V438H76.8V447.3H79V450.5H81.8V454.6H108.5V468.1H135.4" stroke="#1c1c1c" stroke-width="1.8" fill="none"/>
<path d="M50.90 397.50L56.10 402.70M50.90 402.70L56.10 397.50" stroke="#1a1a1a" stroke-width="1.05" fill="none"/>
<path d="M65.90 406.80L71.10 412.00M65.90 412.00L71.10 406.80" stroke="#1a1a1a" stroke-width="1.05" fill="none"/>
<path d="M82.00 423.00L87.20 428.20M82.00 428.20L87.20 423.00" stroke="#1a1a1a" stroke-width="1.05" fill="none"/>
<path d="M83.60 423.00L88.80 428.20M83.60 428.20L88.80 423.00" stroke="#1a1a1a" stroke-width="1.05" fill="none"/>
<path d="M91.40 440.50L96.60 445.70M91.40 445.70L96.60 440.50" stroke="#1a1a1a" stroke-width="1.05" fill="none"/>
<path d="M94.70 440.50L99.90 445.70M94.70 445.70L99.90 440.50" stroke="#1a1a1a" stroke-width="1.05" fill="none"/>
<path d="M107.40 449.40L112.60 454.60M107.40 454.60L112.60 449.40" stroke="#1a1a1a" stroke-width="1.05" fill="none"/>
<path d="M124.60 449.40L129.80 454.60M124.60 454.60L129.80 449.40" stroke="#1a1a1a" stroke-width="1.05" fill="none"/>
<path d="M156.40 449.50L161.60 454.70M156.40 454.70L161.60 449.50" stroke="#1a1a1a" stroke-width="1.05" fill="none"/>
<path d="M168.40 455.00L173.60 460.20M168.40 460.20L173.60 455.00" stroke="#1a1a1a" stroke-width="1.05" fill="none"/>
<path d="M173.00 455.00L178.20 460.20M173.00 460.20L178.20 455.00" stroke="#1a1a1a" stroke-width="1.05" fill="none"/>
<path d="M177.20 455.00L182.40 460.20M177.20 460.20L182.40 455.00" stroke="#1a1a1a" stroke-width="1.05" fill="none"/>
<path d="M184.60 455.00L189.80 460.20M184.60 460.20L189.80 455.00" stroke="#1a1a1a" stroke-width="1.05" fill="none"/>
<path d="M206.20 455.00L211.40 460.20M206.20 460.20L211.40 455.00" stroke="#1a1a1a" stroke-width="1.05" fill="none"/>
<path d="M210.50 455.00L215.70 460.20M210.50 460.20L215.70 455.00" stroke="#1a1a1a" stroke-width="1.05" fill="none"/>
<path d="M221.90 471.90L227.10 477.10M221.90 477.10L227.10 471.90" stroke="#1a1a1a" stroke-width="1.05" fill="none"/>
<path d="M227.30 471.90L232.50 477.10M227.30 477.10L232.50 471.90" stroke="#1a1a1a" stroke-width="1.05" fill="none"/>
<path d="M64.70 418.90L69.90 424.10M64.70 424.10L69.90 418.90" stroke="#1a1a1a" stroke-width="1.05" fill="none"/>
<path d="M68.20 418.90L73.40 424.10M68.20 424.10L73.40 418.90" stroke="#1a1a1a" stroke-width="1.05" fill="none"/>
<path d="M71.00 418.90L76.20 424.10M71.00 424.10L76.20 418.90" stroke="#1a1a1a" stroke-width="1.05" fill="none"/>
<path d="M81.20 452.00L86.40 457.20M81.20 457.20L86.40 452.00" stroke="#1a1a1a" stroke-width="1.05" fill="none"/>
<path d="M95.90 452.00L101.10 457.20M95.90 457.20L101.10 452.00" stroke="#1a1a1a" stroke-width="1.05" fill="none"/>
<path d="M123.60 465.50L128.80 470.70M123.60 470.70L128.80 465.50" stroke="#1a1a1a" stroke-width="1.05" fill="none"/>
<path d="M125.90 465.50L131.10 470.70M125.90 470.70L131.10 465.50" stroke="#1a1a1a" stroke-width="1.05" fill="none"/>
<path d="M132.00 465.50L137.20 470.70M132.00 470.70L137.20 465.50" stroke="#1a1a1a" stroke-width="1.05" fill="none"/>
</g>
<path d="M304.4 406.84H512" stroke="#f7f7f7" stroke-width="1"/>
<path d="M304.4 432.08H512" stroke="#f7f7f7" stroke-width="1"/>
<path d="M304.4 457.32H512" stroke="#f7f7f7" stroke-width="1"/>
<path d="M304.4 482.56H512" stroke="#f7f7f7" stroke-width="1"/>
<text x="268.70" y="377.40" font-size="17" text-anchor="start" font-weight="bold" fill="#000" >F</text>
<text transform="translate(284.90,440.30) rotate(-90)" font-size="10.69" text-anchor="middle" fill="#111">Probability of survival</text>
<text x="403.60" y="528.40" font-size="10.85" text-anchor="middle" font-weight="normal" fill="#111" xml:space="preserve">Overall survival (<tspan dx="0.7">days</tspan><tspan dx="0.8">)</tspan></text>
<text x="299.00" y="384.70" font-size="7.5" text-anchor="end" font-weight="normal" fill="#222" >1</text>
<text x="299.00" y="409.94" font-size="7.5" text-anchor="end" font-weight="normal" fill="#222" >0.8</text>
<text x="299.00" y="435.18" font-size="7.5" text-anchor="end" font-weight="normal" fill="#222" >0.6</text>
<text x="299.00" y="460.42" font-size="7.5" text-anchor="end" font-weight="normal" fill="#222" >0.4</text>
<text x="299.00" y="485.66" font-size="7.5" text-anchor="end" font-weight="normal" fill="#222" >0.2</text>
<text x="299.00" y="510.90" font-size="7.5" text-anchor="end" font-weight="normal" fill="#222" >0</text>
<text x="304.80" y="517.60" font-size="7.5" text-anchor="middle" font-weight="normal" fill="#222" >0</text>
<text x="356.55" y="517.60" font-size="7.5" text-anchor="middle" font-weight="normal" fill="#222" >500</text>
<text x="408.30" y="517.60" font-size="7.5" text-anchor="middle" font-weight="normal" fill="#222" >1000</text>
<text x="460.05" y="517.60" font-size="7.5" text-anchor="middle" font-weight="normal" fill="#222" >1500</text>
<text x="511.80" y="517.60" font-size="7.5" text-anchor="middle" font-weight="normal" fill="#222" >2000</text>
<rect x="427.5" y="388" width="78" height="28" fill="#fff" stroke="#eeeeee" stroke-width="0.8"/>
<path d="M430 392.9H441" stroke="#a0a0a0" stroke-width="1.0"/>
<path d="M430 401.5H441" stroke="#1a1a1a" stroke-width="1.35"/>
<path d="M432.90 407.20L438.10 412.40M432.90 412.40L438.10 407.20" stroke="#1a1a1a" stroke-width="1.0" fill="none"/>
<text x="443.8" y="395.29999999999995" font-size="6.35" fill="#222">Predicted <tspan font-style="italic">FLT3</tspan>-ITD-</text>
<text x="443.8" y="403.9" font-size="6.35" fill="#222">Predicted <tspan font-style="italic">FLT3</tspan>-ITD+</text>
<text x="443.8" y="412.2" font-size="6.35" fill="#222">Censored</text>
<text x="503.3" y="502.3" font-size="9.7" text-anchor="end" fill="#111"><tspan font-style="italic">P</tspan> = .001</text>
<path d="M304.4 381.6H512" stroke="#5e5e5e" stroke-width="1.3"/>
<path d="M512 381.6V507.8" stroke="#5e5e5e" stroke-width="1.3"/>
<path d="M304.4 381.6V507.8" stroke="#8e8e8e" stroke-width="1.8"/>
<path d="M304.4 507.8H512" stroke="#747474" stroke-width="1.6"/>
<g transform="translate(0.3,0.25)">
<path d="M304.5 381.6V386H304.9V390H305.2V393.9H325.4V399.3H330.6V402.8H347.5V413.8H350V417H352.3V419.2H357V423H359V427H361V431.5H362.3V433H373.2V442.5H441V448.8H488.4V468H501" stroke="#8e8e8e" stroke-width="1.4" fill="none"/>
<path d="M304.5 381.6V386H304.9V390H305.2V393.2H308.1V397H308.8V401H309.5V405.1H311.5V408.6H316.1V412H317.3V415.5H321.3V418.4H323.1V427.7H332.3V433.1H343.1V440H344V446.2H345.4V456.9H348.5V463.1H352.3V470.4H360.6V480.2H378.3V488.9H406.1" stroke="#1c1c1c" stroke-width="1.8" fill="none"/>
<path d="M335.90 400.20L341.10 405.40M335.90 405.40L341.10 400.20" stroke="#1a1a1a" stroke-width="1.05" fill="none"/>
<path d="M352.00 416.60L357.20 421.80M352.00 421.80L357.20 416.60" stroke="#1a1a1a" stroke-width="1.05" fill="none"/>
<path d="M353.60 416.60L358.80 421.80M353.60 421.80L358.80 416.60" stroke="#1a1a1a" stroke-width="1.05" fill="none"/>
<path d="M362.90 430.40L368.10 435.60M362.90 435.60L368.10 430.40" stroke="#1a1a1a" stroke-width="1.05" fill="none"/>
<path d="M365.90 430.40L371.10 435.60M365.90 435.60L371.10 430.40" stroke="#1a1a1a" stroke-width="1.05" fill="none"/>
<path d="M377.90 439.90L383.10 445.10M377.90 445.10L383.10 439.90" stroke="#1a1a1a" stroke-width="1.05" fill="none"/>
<path d="M394.90 439.90L400.10 445.10M394.90 445.10L400.10 439.90" stroke="#1a1a1a" stroke-width="1.05" fill="none"/>
<path d="M426.80 439.90L432.00 445.10M426.80 445.10L432.00 439.90" stroke="#1a1a1a" stroke-width="1.05" fill="none"/>
<path d="M439.30 446.10L444.50 451.30M439.30 451.30L444.50 446.10" stroke="#1a1a1a" stroke-width="1.05" fill="none"/>
<path d="M442.40 446.10L447.60 451.30M442.40 451.30L447.60 446.10" stroke="#1a1a1a" stroke-width="1.05" fill="none"/>
<path d="M446.50 446.10L451.70 451.30M446.50 451.30L451.70 446.10" stroke="#1a1a1a" stroke-width="1.05" fill="none"/>
<path d="M454.90 446.10L460.10 451.30M454.90 451.30L460.10 446.10" stroke="#1a1a1a" stroke-width="1.05" fill="none"/>
<path d="M476.70 446.10L481.90 451.30M476.70 451.30L481.90 446.10" stroke="#1a1a1a" stroke-width="1.05" fill="none"/>
<path d="M480.70 446.10L485.90 451.30M480.70 451.30L485.90 446.10" stroke="#1a1a1a" stroke-width="1.05" fill="none"/>
<path d="M493.20 465.40L498.40 470.60M493.20 470.60L498.40 465.40" stroke="#1a1a1a" stroke-width="1.05" fill="none"/>
<path d="M498.10 465.40L503.30 470.60M498.10 470.60L503.30 465.40" stroke="#1a1a1a" stroke-width="1.05" fill="none"/>
<path d="M320.80 418.40L326.00 423.60M320.80 423.60L326.00 418.40" stroke="#1a1a1a" stroke-width="1.05" fill="none"/>
<path d="M335.90 430.50L341.10 435.70M335.90 435.70L341.10 430.50" stroke="#1a1a1a" stroke-width="1.05" fill="none"/>
<path d="M339.70 430.50L344.90 435.70M339.70 435.70L344.90 430.50" stroke="#1a1a1a" stroke-width="1.05" fill="none"/>
<path d="M351.60 467.80L356.80 473.00M351.60 473.00L356.80 467.80" stroke="#1a1a1a" stroke-width="1.05" fill="none"/>
<path d="M393.60 486.30L398.80 491.50M393.60 491.50L398.80 486.30" stroke="#1a1a1a" stroke-width="1.05" fill="none"/>
<path d="M395.00 486.30L400.20 491.50M395.00 491.50L400.20 486.30" stroke="#1a1a1a" stroke-width="1.05" fill="none"/>
<path d="M401.60 486.30L406.80 491.50M401.60 491.50L406.80 486.30" stroke="#1a1a1a" stroke-width="1.05" fill="none"/>
</g>
</svg></body></html>
